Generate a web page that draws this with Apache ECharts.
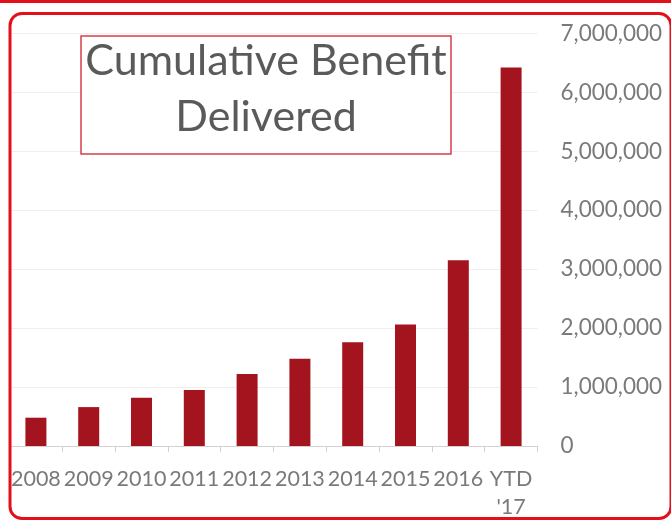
<!DOCTYPE html>
<html>
<head>
<meta charset="utf-8">
<script src="https://cdn.jsdelivr.net/npm/echarts@6/dist/echarts.min.js"></script>
<style>
html,body{margin:0;padding:0;background:#fff;}
#chart{width:671px;height:521px;}
</style>
</head>
<body>
<div id="chart"></div>
<script>
var categories = ['2008','2009','2010','2011','2012','2013','2014','2015','2016',"YTD\n'17"];
var benefitValues = [480000, 660000, 820000, 950000, 1220000, 1480000, 1760000, 2060000, 3150000, 6420000];
var titleLines = ['Cumulative Benefit', 'Delivered'];
var yMin = 0, yMax = 7000000, yStep = 1000000;

var chart = echarts.init(document.getElementById('chart'));
var font = 'Lato, "Open Sans", sans-serif';
chart.setOption({
  animation: false,
  backgroundColor: '#ffffff',
  grid: {left: 9.5, right: 133.5, top: 33.4, bottom: 69, containLabel: false},
  xAxis: {
    type: 'category',
    data: categories,
    axisLine: {show: true, lineStyle: {color: '#d6cfcf', width: 1}},
    axisTick: {show: true, length: 6, lineStyle: {color: '#d6cfcf'}},
    axisLabel: {color: '#7a7a7a', fontFamily: font, fontSize: 21.5, margin: 19, lineHeight: 28, interval: 0}
  },
  yAxis: {
    type: 'value',
    position: 'right',
    min: yMin, max: yMax, interval: yStep,
    axisLine: {show: false},
    axisTick: {show: false},
    splitLine: {show: true, lineStyle: {color: '#f3eeee', width: 1}},
    axisLabel: {
      color: '#7a7a7a', fontFamily: font, fontSize: 22.5, margin: 23, align: 'left',
      formatter: function (v) { return v.toLocaleString('en-US'); }
    }
  },
  series: [{
    type: 'bar',
    data: benefitValues,
    barWidth: 21,
    itemStyle: {color: '#a3141f'}
  }],
  graphic: [
    {type: 'rect', shape: {x: 0, y: -2, width: 671, height: 5}, style: {fill: '#e3101b'}, silent: true},
    {type: 'rect', shape: {x: 10, y: 13.5, width: 661, height: 505, r: 12},
     style: {fill: 'none', stroke: '#e3101b', lineWidth: 3}, silent: true, z: 100},
    {type: 'rect', shape: {x: 81, y: 36, width: 370, height: 118},
     style: {fill: '#ffffff', stroke: '#d4404e', lineWidth: 1.5}, z: 50},
    {type: 'text', x: 266, y: 61, z: 51,
     style: {text: titleLines[0], fill: '#5a5a5a', font: '43px ' + font, textAlign: 'center', textVerticalAlign: 'middle'}},
    {type: 'text', x: 266, y: 117, z: 51,
     style: {text: titleLines[1], fill: '#5a5a5a', font: '43px ' + font, textAlign: 'center', textVerticalAlign: 'middle'}}
  ]
});
</script>
</body>
</html>
